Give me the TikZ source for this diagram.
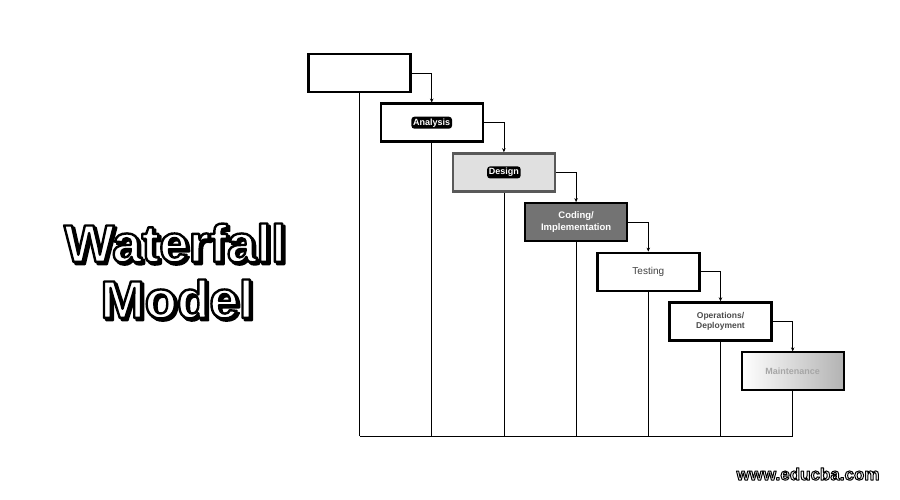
\documentclass[tikz,border=0pt]{standalone}
\usepackage{fontspec}
\setmainfont{Liberation Sans}
\usetikzlibrary{arrows.meta}

% white letters with a black rim
\newcommand{\rimtext}[2]{\special{pdf:literal direct 2 Tr #1 w 1 j 0 G}#2\special{pdf:literal direct 0 Tr}}

\tikzset{
  stage/.style={draw, line width=2.4pt, fill=white, minimum width=102pt, minimum height=38pt, inner sep=0pt, align=center},
  pill/.style={fill=black, text=white, rounded corners=3pt, inner sep=1.8pt, font=\bfseries\fontsize{9}{10}\selectfont},
  flow/.style={-{Stealth[length=4pt,width=3.5pt]}, line width=0.8pt},
  drop/.style={line width=0.6pt},
  title/.style={font=\bfseries\fontsize{53}{56}\selectfont, inner sep=0pt},
  site/.style={font=\bfseries\fontsize{17}{18}\selectfont, inner sep=0pt},
}

\begin{document}
\begin{tikzpicture}[x=1pt, y=-1pt]
 \useasboundingbox (0,0) rectangle (900,500);

 %title
 \node[title, text=black, xshift=2.2pt, yshift=-2.2pt] (wshadow) at (175,243) {\rimtext{2.4}{Waterfall}};
 \node[title, text=black, xshift=2.2pt, yshift=-2.2pt] (mshadow) at (177,299) {\rimtext{2.4}{Model}};
 \node[title, text=white] (wtitle) at (175,243) {\rimtext{2.4}{Waterfall}};
 \node[title, text=white] (mtitle) at (177,299) {\rimtext{2.4}{Model}};

 %stages
 \def\dx{72.2}
 \def\dy{49.7}

 \node[stage] (req) at (359.5 + 0*\dx, 73 + 0*\dy) {};

 \node[stage] (ana) at (359.5 + 1*\dx, 73 + 1*\dy) {};
 \node[pill] (anatxt) at (ana.center) {Analysis};

 \node[stage, draw=black!65, fill=black!12] (des) at (359.5 + 2*\dx, 73 + 2*\dy) {};
 \node[pill] (destxt) at (des.center) {Design};

 \node[stage, line width=2pt, draw=black, fill=black!55, text=white, font=\bfseries\fontsize{9.5}{12.5}\selectfont] (cod) at (359.5 + 3*\dx, 73 + 3*\dy) {Coding/\\Implementation};

 \node[stage, text=black!75, font=\fontsize{10}{12}\selectfont] (tes) at (359.5 + 4*\dx, 73 + 4*\dy) {Testing};

 \node[stage, text=black!70, font=\bfseries\fontsize{8.5}{10}\selectfont] (dep) at (359.5 + 5*\dx, 73 + 5*\dy) {Operations/\\Deployment};

 \node[stage, line width=1.6pt, left color=white, right color=black!30, text=black!35, font=\bfseries\fontsize{9}{10}\selectfont] (mai) at (359.5 + 6*\dx, 73 + 6*\dy) {Maintenance};

 %arrows
 \draw[flow] (req.east) -| (ana.north);
 \draw[flow] (ana.east) -| (des.north);
 \draw[flow] (des.east) -| (cod.north);
 \draw[flow] (cod.east) -| (tes.north);
 \draw[flow] (tes.east) -| (dep.north);
 \draw[flow] (dep.east) -| (mai.north);

 %floor
 \coordinate (floor) at (0,436);
 \foreach \name in {req, ana, des, cod, tes, dep, mai} {
         \draw[drop] (\name.south) -- (\name.south |- floor);
 }
 \draw[line width=1pt] (req.south |- floor) -- (mai.south |- floor);

 %site
 \node[site, text=white] (site) at (808,474) {\rimtext{1}{www.educba.com}};

\end{tikzpicture}
\end{document}
